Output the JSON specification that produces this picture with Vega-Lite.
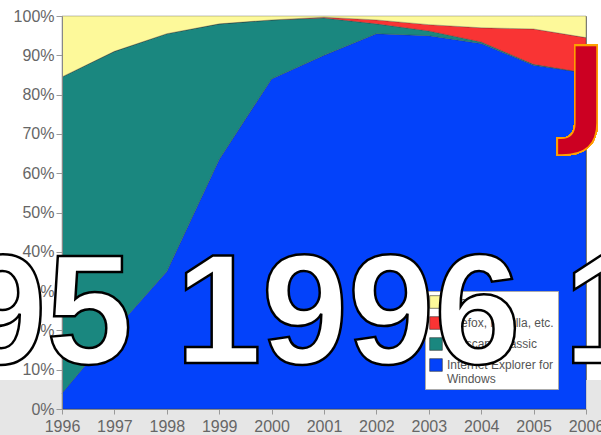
{
  "$schema": "https://vega.github.io/schema/vega-lite/v6.json",
  "width": 524,
  "height": 393,
  "autosize": {"type": "none"},
  "padding": {"left": 62, "top": 16, "right": 15, "bottom": 26},
  "background": "white",
  "title": {
    "text": "1995 1996 1997",
    "orient": "top",
    "anchor": "middle",
    "frame": "group",
    "baseline": "alphabetic",
    "offset": 0,
    "dx": 24,
    "dy": 510,
    "font": "Liberation Sans",
    "fontWeight": "bold",
    "fontSize": 155,
    "color": "white",
    "zindex": 3
  },
  "config": {
    "view": {"stroke": "#8a8a80", "strokeWidth": 1},
    "style": {"group-title": {"stroke": "black", "strokeWidth": 2.5}},
    "font": "Liberation Sans",
    "axis": {
      "title": null,
      "grid": false,
      "labelFontSize": 16,
      "labelColor": "#666",
      "labelFont": "Liberation Sans",
      "tickColor": "#999",
      "domainColor": "#888",
      "labelOverlap": false,
      "labelFlush": false
    },
    "axisX": {"tickSize": 5, "labelPadding": 4},
    "axisY": {"tickSize": 6, "labelPadding": 2}
  },
  "data": {
    "values": [
      {"year": 1996, "browser": "Internet Explorer for Windows", "share": 4},
      {"year": 1996, "browser": "Netscape classic", "share": 80.5},
      {"year": 1996, "browser": "Firefox, Mozilla, etc.", "share": 0},
      {"year": 1996, "browser": "Other", "share": 15.5},
      {"year": 1997, "browser": "Internet Explorer for Windows", "share": 20},
      {"year": 1997, "browser": "Netscape classic", "share": 71},
      {"year": 1997, "browser": "Firefox, Mozilla, etc.", "share": 0},
      {"year": 1997, "browser": "Other", "share": 9},
      {"year": 1998, "browser": "Internet Explorer for Windows", "share": 35},
      {"year": 1998, "browser": "Netscape classic", "share": 60.5},
      {"year": 1998, "browser": "Firefox, Mozilla, etc.", "share": 0},
      {"year": 1998, "browser": "Other", "share": 4.5},
      {"year": 1999, "browser": "Internet Explorer for Windows", "share": 63.5},
      {"year": 1999, "browser": "Netscape classic", "share": 34.5},
      {"year": 1999, "browser": "Firefox, Mozilla, etc.", "share": 0},
      {"year": 1999, "browser": "Other", "share": 2},
      {"year": 2000, "browser": "Internet Explorer for Windows", "share": 84},
      {"year": 2000, "browser": "Netscape classic", "share": 15},
      {"year": 2000, "browser": "Firefox, Mozilla, etc.", "share": 0},
      {"year": 2000, "browser": "Other", "share": 1},
      {"year": 2001, "browser": "Internet Explorer for Windows", "share": 90},
      {"year": 2001, "browser": "Netscape classic", "share": 9.5},
      {"year": 2001, "browser": "Firefox, Mozilla, etc.", "share": 0.2},
      {"year": 2001, "browser": "Other", "share": 0.3},
      {"year": 2002, "browser": "Internet Explorer for Windows", "share": 95.5},
      {"year": 2002, "browser": "Netscape classic", "share": 2.5},
      {"year": 2002, "browser": "Firefox, Mozilla, etc.", "share": 1},
      {"year": 2002, "browser": "Other", "share": 1},
      {"year": 2003, "browser": "Internet Explorer for Windows", "share": 95},
      {"year": 2003, "browser": "Netscape classic", "share": 1.2},
      {"year": 2003, "browser": "Firefox, Mozilla, etc.", "share": 1.6},
      {"year": 2003, "browser": "Other", "share": 2.2},
      {"year": 2004, "browser": "Internet Explorer for Windows", "share": 93},
      {"year": 2004, "browser": "Netscape classic", "share": 0.4},
      {"year": 2004, "browser": "Firefox, Mozilla, etc.", "share": 3.6},
      {"year": 2004, "browser": "Other", "share": 3},
      {"year": 2005, "browser": "Internet Explorer for Windows", "share": 87.5},
      {"year": 2005, "browser": "Netscape classic", "share": 0.2},
      {"year": 2005, "browser": "Firefox, Mozilla, etc.", "share": 9},
      {"year": 2005, "browser": "Other", "share": 3.3},
      {"year": 2006, "browser": "Internet Explorer for Windows", "share": 85.5},
      {"year": 2006, "browser": "Netscape classic", "share": 0},
      {"year": 2006, "browser": "Firefox, Mozilla, etc.", "share": 9},
      {"year": 2006, "browser": "Other", "share": 5.5}
    ]
  },
  "layer": [
    {
      "mark": {"type": "rect", "color": "#e6e6e6", "clip": false},
      "encoding": {
        "x": {
          "datum": 1994.8, "type": "quantitative",
          "scale": {"domain": [1996, 2006], "nice": false, "zero": false},
          "axis": {"values": [1996, 1997, 1998, 1999, 2000, 2001, 2002, 2003, 2004, 2005, 2006], "format": "d", "zindex": 1}
        },
        "x2": {"datum": 2006.4},
        "y": {
          "datum": 7.4, "type": "quantitative",
          "scale": {"domain": [0, 100], "nice": false, "zero": false},
          "axis": {"values": [0, 10, 20, 30, 40, 50, 60, 70, 80, 90, 100], "labelExpr": "datum.value + '%'", "zindex": 1}
        },
        "y2": {"datum": -7}
      }
    },
    {
      "transform": [
        {"calculate": "indexof(['Internet Explorer for Windows', 'Netscape classic', 'Firefox, Mozilla, etc.', 'Other'], datum.browser)", "as": "stackOrder"}
      ],
      "mark": {"type": "area", "stroke": "#333", "strokeWidth": 0.5, "strokeOpacity": 0.6},
      "encoding": {
        "x": {
          "field": "year",
          "type": "quantitative",
          "scale": {"domain": [1996, 2006], "nice": false, "zero": false},
          "axis": {"values": [1996, 1997, 1998, 1999, 2000, 2001, 2002, 2003, 2004, 2005, 2006], "format": "d", "zindex": 1}
        },
        "y": {
          "field": "share",
          "type": "quantitative",
          "stack": "zero",
          "scale": {"domain": [0, 100], "nice": false, "zero": false},
          "axis": {"values": [0, 10, 20, 30, 40, 50, 60, 70, 80, 90, 100], "labelExpr": "datum.value + '%'", "zindex": 1}
        },
        "order": {"field": "stackOrder", "type": "quantitative", "sort": "ascending"},
        "color": {
          "field": "browser",
          "type": "nominal",
          "scale": {
            "domain": ["Other", "Firefox, Mozilla, etc.", "Netscape classic", "Internet Explorer for Windows"],
            "range": ["#fdf99a", "#f93434", "#1a877f", "#0342fa"]
          },
          "legend": {
            "orient": "none",
            "legendX": 363,
            "legendY": 275,
            "title": null,
            "fillColor": "white",
            "strokeColor": "#aaa",
            "padding": 4,
            "symbolType": "square",
            "symbolSize": 160,
            "symbolStrokeColor": "#333",
            "symbolStrokeWidth": 0.6,
            "symbolOpacity": 1,
            "labelFontSize": 12,
            "labelColor": "#555",
            "labelFont": "Liberation Sans",
            "labelLimit": 200,
            "rowPadding": 5,
            "labelOffset": 4,
            "labelExpr": "datum.label == 'Internet Explorer for Windows' ? ['Internet Explorer for', 'Windows'] : datum.label",
            "zindex": 1
          }
        }
      }
    },
    {
      "mark": {"type": "text", "text": "J", "font": "DejaVu Sans", "fontWeight": "bold", "fontSize": 118, "align": "left", "baseline": "alphabetic", "fill": "#cc0022", "stroke": "#ffa000", "strokeWidth": 1.5, "clip": false},
      "encoding": {
        "x": {
          "datum": 2005.58, "type": "quantitative",
          "scale": {"domain": [1996, 2006], "nice": false, "zero": false},
          "axis": {"values": [1996, 1997, 1998, 1999, 2000, 2001, 2002, 2003, 2004, 2005, 2006], "format": "d", "zindex": 1}
        },
        "y": {
          "datum": 70.7, "type": "quantitative",
          "scale": {"domain": [0, 100], "nice": false, "zero": false},
          "axis": {"values": [0, 10, 20, 30, 40, 50, 60, 70, 80, 90, 100], "labelExpr": "datum.value + '%'", "zindex": 1}
        }
      }
    }
  ]
}
